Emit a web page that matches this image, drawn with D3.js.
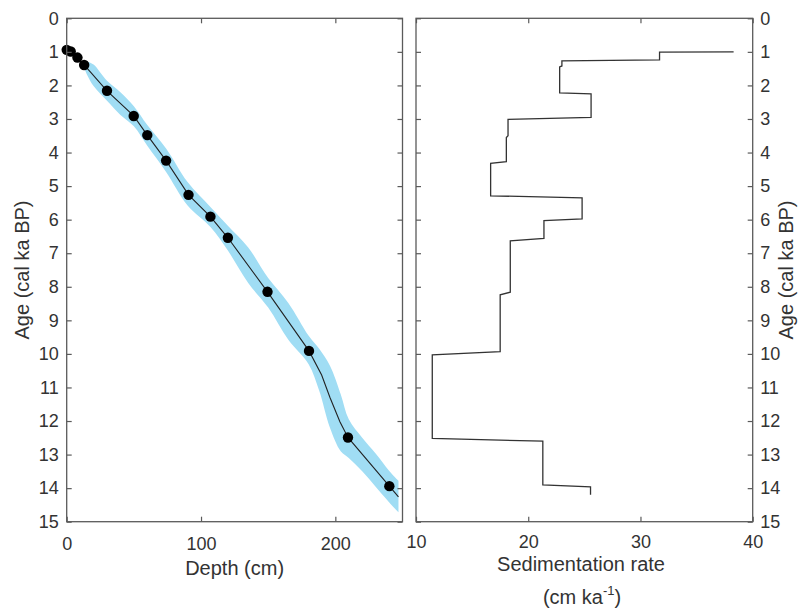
<!DOCTYPE html>
<html>
<head>
<meta charset="utf-8">
<script src="https://cdn.jsdelivr.net/npm/d3@7"></script>
<style>
  html, body { margin: 0; padding: 0; background: #fff; }
  svg { display: block; font-family: "Liberation Sans", Arial, sans-serif; }
</style>
</head>
<body>
<svg id="chart" width="803" height="610"></svg>
<script>
// ---- Data ----
// Dated points (depth cm, age ka)
const pointDepth = [0, 3, 8, 13, 30, 49.9, 60, 74, 90.7, 107, 120, 149.5, 180.4, 209.4, 240.2];
const pointAge   = [0.94, 0.99, 1.17, 1.39, 2.16, 2.91, 3.48, 4.24, 5.26, 5.91, 6.54, 8.15, 9.91, 12.49, 13.94];

// Age model line
const lineDepth = [0, 3, 8, 13, 30, 49.9, 60, 74, 90.7, 107, 120, 149.5, 180.4, 189.8, 196, 203.4, 209.4, 240.2, 247];
const lineAge   = [0.94, 0.99, 1.17, 1.39, 2.16, 2.91, 3.48, 4.24, 5.26, 5.91, 6.54, 8.15, 9.91, 10.63, 11.3, 12.02, 12.49, 13.94, 14.26];

// Uncertainty envelope (age range at each depth)
const bandDepth  = [13, 16, 20, 30, 40, 50, 60, 74, 90, 107, 120, 135, 150, 165, 180, 188, 196, 204, 210, 220, 230, 240, 247];
const bandAgeMin = [1.30, 1.30, 1.38, 1.86, 2.20, 2.62, 3.18, 3.88, 4.88, 5.62, 6.18, 6.82, 7.74, 8.48, 9.45, 9.85, 10.35, 11.20, 11.95, 12.50, 12.97, 13.48, 13.78];
const bandAgeMax = [1.48, 1.75, 2.02, 2.46, 2.88, 3.22, 3.80, 4.58, 5.58, 6.22, 6.92, 7.88, 8.62, 9.58, 10.30, 11.10, 12.20, 12.90, 13.10, 13.50, 13.96, 14.42, 14.72];

// Sedimentation rate step curve (rate cm/ka, age ka)
const rateValue = [38.3, 31.7, 31.7, 23.0, 23.0, 22.8, 22.8, 25.6, 25.6, 18.2, 18.2, 18.05, 18.05, 16.65, 16.65, 24.8, 24.8, 21.4, 21.4, 18.4, 18.4, 17.5, 17.5, 11.45, 11.45, 21.3, 21.3, 25.55, 25.55];
const rateAge   = [1.00, 1.01, 1.24, 1.27, 1.42, 1.45, 2.22, 2.25, 2.95, 3.01, 3.50, 3.55, 4.27, 4.32, 5.29, 5.35, 5.98, 6.03, 6.56, 6.63, 8.16, 8.24, 9.93, 10.03, 12.52, 12.60, 13.90, 13.96, 14.20];

// Axes
const ageTicks   = d3.range(0, 16, 1);
const depthTicks = [0, 100, 200];
const rateTicks  = [10, 20, 30, 40];

// ---- Layout ----
const svg = d3.select("#chart");
const textColor = "#333";
const frameColor = "#5a5a5a";
const yTop = 18.3, yBot = 521.7;
const L = { x0: 66.7, x1: 402.5 };
const R = { x0: 416, x1: 752.7 };

const y = d3.scaleLinear().domain([0, 15]).range([yTop, yBot]);
const xD = d3.scaleLinear().domain([0, 250]).range([L.x0, L.x1]);
const xR = d3.scaleLinear().domain([10, 40]).range([R.x0, R.x1]);

// ---- Left panel ----
const gL = svg.append("g");

gL.append("path")
  .datum(bandDepth.map((d, i) => [d, bandAgeMin[i], bandAgeMax[i]]))
  .attr("fill", "#a0ddf4")
  .attr("d", d3.area()
    .x(d => xD(d[0]))
    .y0(d => y(d[1]))
    .y1(d => y(d[2]))
    .curve(d3.curveCatmullRom.alpha(0.5)));

gL.append("path")
  .datum(lineDepth.map((d, i) => [d, lineAge[i]]))
  .attr("fill", "none")
  .attr("stroke", "#222")
  .attr("stroke-width", 1.1)
  .attr("d", d3.line().x(d => xD(d[0])).y(d => y(d[1])));

gL.selectAll("circle.pt")
  .data(pointDepth.map((d, i) => [d, pointAge[i]]))
  .join("circle")
  .attr("class", "pt")
  .attr("cx", d => xD(d[0]))
  .attr("cy", d => y(d[1]))
  .attr("r", 5.2)
  .attr("fill", "#000");

function styleAxis(g) {
  g.select(".domain").remove();
  g.selectAll(".tick line").attr("stroke", frameColor).attr("stroke-width", 1.2);
  g.selectAll(".tick text").attr("fill", textColor).style("font-size", "18px");
}

// left axis
gL.append("g").attr("transform", `translate(${L.x0},0)`)
  .call(d3.axisLeft(y).tickValues(ageTicks).tickFormat(d3.format("d")).tickSize(-5).tickPadding(8))
  .call(styleAxis);
// right ticks of left panel
gL.append("g").attr("transform", `translate(${L.x1},0)`)
  .call(d3.axisRight(y).tickValues(ageTicks).tickFormat("").tickSize(-5))
  .call(styleAxis);
// bottom
gL.append("g").attr("transform", `translate(0,${yBot})`)
  .call(d3.axisBottom(xD).tickValues(depthTicks).tickFormat(d3.format("d")).tickSize(-5).tickPadding(15.5))
  .call(styleAxis);
// top ticks
gL.append("g").attr("transform", `translate(0,${yTop})`)
  .call(d3.axisTop(xD).tickValues(depthTicks).tickFormat("").tickSize(-5))
  .call(styleAxis);

gL.append("rect")
  .attr("x", L.x0).attr("y", yTop)
  .attr("width", L.x1 - L.x0).attr("height", yBot - yTop)
  .attr("fill", "none").attr("stroke", frameColor).attr("stroke-width", 1.3);

gL.append("text")
  .attr("x", (L.x0 + L.x1) / 2).attr("y", 575)
  .attr("text-anchor", "middle").attr("fill", textColor)
  .style("font-size", "20px")
  .text("Depth (cm)");

gL.append("text")
  .attr("transform", `translate(29,${(yTop + yBot) / 2}) rotate(-90)`)
  .attr("text-anchor", "middle").attr("fill", textColor)
  .style("font-size", "20px")
  .text("Age (cal ka BP)");

// ---- Right panel ----
const gR = svg.append("g");

gR.append("path")
  .datum(rateValue.map((d, i) => [d, rateAge[i]]))
  .attr("fill", "none")
  .attr("stroke", "#333")
  .attr("stroke-width", 1.3)
  .attr("d", d3.line().x(d => xR(d[0])).y(d => y(d[1])));

gR.append("g").attr("transform", `translate(${R.x0},0)`)
  .call(d3.axisLeft(y).tickValues(ageTicks).tickFormat("").tickSize(-5))
  .call(styleAxis);
gR.append("g").attr("transform", `translate(${R.x1},0)`)
  .call(d3.axisRight(y).tickValues(ageTicks).tickFormat(d3.format("d")).tickSize(-5).tickPadding(7.5))
  .call(styleAxis);
gR.append("g").attr("transform", `translate(0,${yBot})`)
  .call(d3.axisBottom(xR).tickValues(rateTicks).tickFormat(d3.format("d")).tickSize(-5).tickPadding(14))
  .call(styleAxis);
gR.append("g").attr("transform", `translate(0,${yTop})`)
  .call(d3.axisTop(xR).tickValues(rateTicks).tickFormat("").tickSize(-5))
  .call(styleAxis);

gR.append("rect")
  .attr("x", R.x0).attr("y", yTop)
  .attr("width", R.x1 - R.x0).attr("height", yBot - yTop)
  .attr("fill", "none").attr("stroke", frameColor).attr("stroke-width", 1.3);

gR.append("text")
  .attr("x", 581).attr("y", 570.5)
  .attr("text-anchor", "middle").attr("fill", textColor)
  .style("font-size", "20px")
  .text("Sedimentation rate");

const unit = gR.append("text")
  .attr("x", 582).attr("y", 603.5)
  .attr("text-anchor", "middle").attr("fill", textColor)
  .style("font-size", "20px");
unit.append("tspan").text("(cm ka");
unit.append("tspan").attr("dy", -9).style("font-size", "13px").text("-1");
unit.append("tspan").attr("dy", 9).text(")");

gR.append("text")
  .attr("transform", `translate(793,${(yTop + yBot) / 2}) rotate(-90)`)
  .attr("text-anchor", "middle").attr("fill", textColor)
  .style("font-size", "20px")
  .text("Age (cal ka BP)");
</script>
</body>
</html>
